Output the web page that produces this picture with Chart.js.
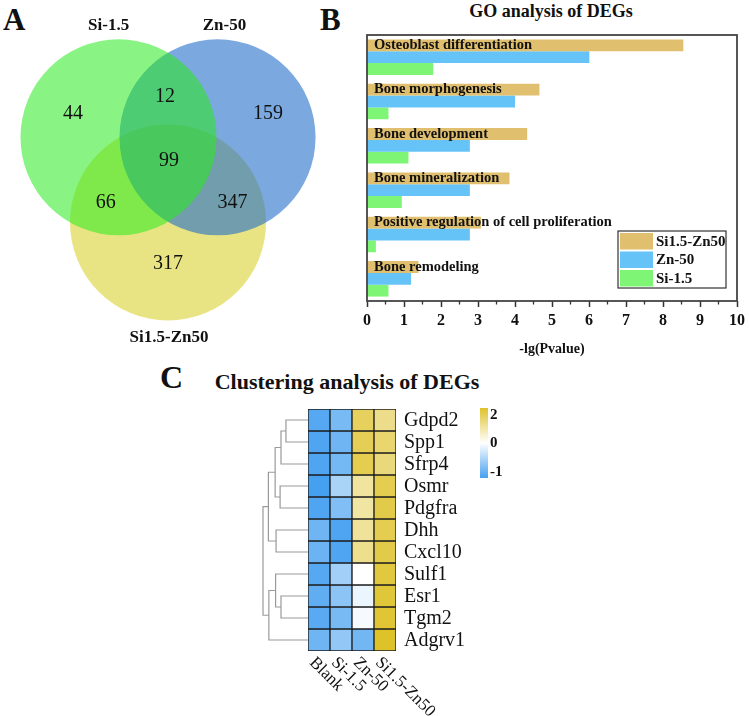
<!DOCTYPE html>
<html>
<head>
<meta charset="utf-8">
<script src="https://cdn.jsdelivr.net/npm/chart.js@4/dist/chart.umd.min.js"></script>
<style>
  body { margin: 0; background: #fff; }
  #page { position: relative; width: 749px; height: 716px; overflow: hidden; font-family: 'Liberation Serif', 'Times New Roman', serif; color: #111; }
  .box { position: absolute; }
  .txt { position: absolute; line-height: 1; font-weight: bold; white-space: nowrap; }
</style>
</head>
<body>
<div id="page">
  <div class="txt" style="left:3px; top:4px; font-size:31px;">A</div>
  <div class="txt" style="left:320px; top:4px; font-size:31px;">B</div>
  <div class="txt" style="left:160px; top:361px; font-size:32px;">C</div>
  <div class="txt" style="left:551px; top:2px; font-size:18px; transform:translateX(-50%);">GO analysis of DEGs</div>
  <div class="txt" style="left:347px; top:371px; font-size:22px; transform:translateX(-50%);">Clustering analysis of DEGs</div>

  <div class="box" style="left:0px; top:0px; width:340px; height:345px;"><canvas id="venn"></canvas></div>
  <div class="box" style="left:355px; top:22px; width:394px; height:340px;"><canvas id="go"></canvas></div>
  <div class="box" style="left:256px; top:409px; width:52px; height:242px;"><canvas id="dendro"></canvas></div>
  <div class="box" style="left:300px; top:400px; width:250px; height:316px;"><canvas id="heat"></canvas></div>
</div>
<script>
// ---- A: Venn ----
const vennSets = ['Si-1.5', 'Zn-50', 'Si1.5-Zn50'];
const vennCenterX = [-0.5, 0.5, 0];
const vennCenterY = [0.29, 0.29, -0.57];
const vennRadius = 0.99;
const vennColors = ['rgba(40,235,30,0.55)', 'rgba(35,110,200,0.6)', 'rgba(220,212,55,0.62)'];
const vennLabelX = [-0.60, 0.57, 0.01];
const vennLabelY = [1.42, 1.42, -1.73];
const vennCounts = [44, 12, 159, 99, 66, 347, 317];
const vennCountX = [-0.96, -0.03, 1.01, 0.01, -0.63, 0.65, 0];
const vennCountY = [0.525, 0.70, 0.525, 0.05, -0.37, -0.37, -0.99];

// ---- B: GO bars ----
const goTerms = ['Osteoblast differentiation', 'Bone morphogenesis', 'Bone development',
  'Bone mineralization', 'Positive regulation of cell proliferation', 'Bone remodeling'];
const goSeries = ['Si1.5-Zn50', 'Zn-50', 'Si-1.5'];
const siZnValues = [8.55, 4.66, 4.33, 3.85, 3.08, 1.39];
const znValues = [6.01, 4.00, 2.78, 2.78, 2.78, 1.19];
const siValues = [1.79, 0.58, 1.12, 0.94, 0.24, 0.58];
const goColors = ['#e0bf6f', '#66c3f8', '#7ef574'];
const xTicks = [0, 1, 2, 3, 4, 5, 6, 7, 8, 9, 10];

// ---- C: heatmap ----
const genes = ['Gdpd2', 'Spp1', 'Sfrp4', 'Osmr', 'Pdgfra', 'Dhh', 'Cxcl10', 'Sulf1', 'Esr1', 'Tgm2', 'Adgrv1'];
const samples = ['Blank', 'Si-1.5', 'Zn-50', 'Si1.5-Zn50'];
const heatValues = [
  [-0.92, -0.73, 1.50, 1.10],
  [-0.95, -0.78, 1.60, 1.35],
  [-0.95, -0.75, 1.65, 1.25],
  [-1.00, -0.46, 0.90, 1.65],
  [-0.95, -0.68, 0.85, 1.70],
  [-0.78, -0.95, 0.95, 1.65],
  [-0.80, -0.95, 1.05, 1.70],
  [-0.92, -0.51, 0.00, 1.80],
  [-0.86, -0.62, -0.11, 1.85],
  [-0.90, -0.73, -0.05, 1.90],
  [-0.78, -0.59, -0.76, 2.00]
];
const colorbarTicks = ['2', '0', '-1'];
// dendrogram merges: [childA, childB, height]; leaves are 0..10, new nodes 11..
const linkage = [
  [0, 1, 0.49], [11, 2, 0.60], [3, 4, 0.62], [12, 13, 0.73], [5, 6, 0.71],
  [14, 15, 0.88], [8, 9, 0.60], [7, 17, 0.72], [18, 10, 0.87], [16, 19, 1.0]
];

const serif = "'Liberation Serif', 'Times New Roman', serif";
Chart.defaults.font.family = serif;
Chart.defaults.color = '#111';
Chart.defaults.animation = false;

// ---------- Venn ----------
var vennLabels = {
  id: 'vennLabels',
  afterDatasetsDraw: function(chart) {
    var ctx = chart.ctx, sx = chart.scales.x, sy = chart.scales.y;
    ctx.save();
    ctx.fillStyle = '#111';
    ctx.textAlign = 'center';
    ctx.textBaseline = 'middle';
    ctx.font = '20px ' + serif;
    vennCounts.forEach(function(n, i) {
      ctx.fillText(String(n), sx.getPixelForValue(vennCountX[i]), sy.getPixelForValue(vennCountY[i]));
    });
    ctx.font = 'bold 17px ' + serif;
    vennSets.forEach(function(s, i) {
      ctx.fillText(s, sx.getPixelForValue(vennLabelX[i]), sy.getPixelForValue(vennLabelY[i]));
    });
    ctx.restore();
  }
};

new Chart(document.getElementById('venn'), {
  type: 'scatter',
  data: {
    datasets: vennSets.map(function(s, i) {
      return {
        label: s,
        data: [{ x: vennCenterX[i], y: vennCenterY[i] }],
        backgroundColor: vennColors[i],
        borderWidth: 0,
        pointRadius: function(c) {
          var sc = c.chart.scales.x;
          if (!sc) return 0;
          var r = Math.abs(sc.getPixelForValue(vennRadius) - sc.getPixelForValue(0));
          return isFinite(r) ? r : 0;
        },
        pointHoverRadius: 0
      };
    })
  },
  options: {
    responsive: true,
    maintainAspectRatio: false,
    events: [],
    layout: { padding: 0, autoPadding: false },
    plugins: { legend: { display: false }, tooltip: { enabled: false } },
    scales: {
      x: { type: 'linear', display: false, min: -1.697, max: 1.737 },
      y: { type: 'linear', display: false, min: -1.808, max: 1.677 }
    }
  },
  plugins: [vennLabels]
});

// ---------- GO bar chart ----------
var goDecor = {
  id: 'goDecor',
  afterDatasetsDraw: function(chart) {
    var ctx = chart.ctx, a = chart.chartArea, sx = chart.scales.x;
    ctx.save();
    // term names over the first bar of each group
    var meta = chart.getDatasetMeta(0);
    ctx.fillStyle = '#111';
    ctx.font = 'bold 14.5px ' + serif;
    ctx.textAlign = 'left';
    ctx.textBaseline = 'middle';
    goTerms.forEach(function(t, i) {
      ctx.fillText(t, a.left + 7, meta.data[i].y);
    });
    // frame
    ctx.strokeStyle = '#444';
    ctx.lineWidth = 1.8;
    ctx.strokeRect(a.left, a.top, a.right - a.left, a.bottom - a.top);
    // minor ticks
    ctx.lineWidth = 1.3;
    ctx.strokeStyle = '#333';
    for (var k = 0; k < xTicks.length - 1; k++) {
      var px = sx.getPixelForValue((xTicks[k] + xTicks[k + 1]) / 2);
      ctx.beginPath();
      ctx.moveTo(px, a.bottom);
      ctx.lineTo(px, a.bottom + 3.5);
      ctx.stroke();
    }
    // legend box (bottom right inside plot)
    var bw = 108, bh = 57;
    var bx = a.right - 11 - bw, by = a.bottom - 13 - bh;
    ctx.fillStyle = '#fff';
    ctx.fillRect(bx, by, bw, bh);
    ctx.strokeStyle = '#333';
    ctx.lineWidth = 1.2;
    ctx.strokeRect(bx, by, bw, bh);
    ctx.font = 'bold 15px ' + serif;
    goSeries.forEach(function(s, i) {
      var cy = by + 10 + i * 18.5;
      ctx.fillStyle = goColors[i];
      ctx.fillRect(bx + 2, cy - 8, 33, 16.5);
      ctx.fillStyle = '#111';
      ctx.fillText(s, bx + 38, cy + 1);
    });
    ctx.restore();
  }
};

new Chart(document.getElementById('go'), {
  type: 'bar',
  data: {
    labels: goTerms,
    datasets: [
      { label: goSeries[0], data: siZnValues, backgroundColor: goColors[0] },
      { label: goSeries[1], data: znValues, backgroundColor: goColors[1] },
      { label: goSeries[2], data: siValues, backgroundColor: goColors[2] }
    ]
  },
  options: {
    indexAxis: 'y',
    responsive: true,
    maintainAspectRatio: false,
    events: [],
    datasets: { bar: { barPercentage: 1, categoryPercentage: 0.8, borderWidth: 0 } },
    layout: { padding: { left: 12, right: 12, top: 13, bottom: 4 } },
    plugins: { legend: { display: false }, tooltip: { enabled: false } },
    scales: {
      x: {
        type: 'linear', min: 0, max: 10,
        afterBuildTicks: function(scale) { scale.ticks = xTicks.map(function(v) { return { value: v }; }); },
        ticks: { font: { size: 16, weight: 'bold' }, color: '#111', padding: 4 },
        grid: { drawOnChartArea: false, drawTicks: true, tickLength: 6, tickColor: '#333', tickWidth: 1.5 },
        border: { display: false },
        title: { display: true, text: '-lg(Pvalue)', font: { size: 14, weight: 'bold' }, color: '#111', padding: { top: 7, bottom: 0 } }
      },
      y: { type: 'category', display: false }
    }
  },
  plugins: [goDecor]
});

// ---------- Dendrogram ----------
var nodeY = genes.map(function(g, i) { return i; });
var nodeH = genes.map(function() { return 0; });
var dendroSets = linkage.map(function(m) {
  var a = m[0], b = m[1], h = m[2];
  var ya = nodeY[a], yb = nodeY[b];
  nodeY.push((ya + yb) / 2);
  nodeH.push(h);
  return {
    data: [{ x: nodeH[a], y: ya }, { x: h, y: ya }, { x: h, y: yb }, { x: nodeH[b], y: yb }],
    showLine: true,
    borderColor: '#9a9a9a',
    borderWidth: 1.2,
    pointRadius: 0,
    fill: false,
    clip: false
  };
});

new Chart(document.getElementById('dendro'), {
  type: 'scatter',
  data: { datasets: dendroSets },
  options: {
    responsive: true,
    maintainAspectRatio: false,
    events: [],
    layout: { padding: 0, autoPadding: false },
    plugins: { legend: { display: false }, tooltip: { enabled: false } },
    scales: {
      x: { type: 'linear', display: false, min: 0, max: 52 / 45, reverse: true },
      y: { type: 'linear', display: false, min: -0.5, max: genes.length - 0.5, reverse: true }
    }
  }
});

// ---------- Heatmap ----------
function heatColor(v) {
  var r, g, b, t;
  if (v >= 0) {
    t = Math.min(v / 2, 1);
    r = 255 + (222 - 255) * t; g = 255 + (194 - 255) * t; b = 255 + (42 - 255) * t;
  } else {
    t = Math.min(-v, 1);
    r = 255 + (70 - 255) * t; g = 255 + (160 - 255) * t; b = 255 + (240 - 255) * t;
  }
  return 'rgb(' + Math.round(r) + ',' + Math.round(g) + ',' + Math.round(b) + ')';
}

var heatDecor = {
  id: 'heatDecor',
  afterDatasetsDraw: function(chart) {
    var ctx = chart.ctx, a = chart.chartArea, sx = chart.scales.x;
    ctx.save();
    ctx.fillStyle = '#111';
    // gene names
    ctx.font = '20px ' + serif;
    ctx.textAlign = 'left';
    ctx.textBaseline = 'middle';
    genes.forEach(function(g, i) {
      var el = chart.getDatasetMeta(i).data[0];
      ctx.fillText(g, a.right + 8, (el.y + el.base) / 2 + 1);
    });
    // sample names, rotated
    ctx.font = '17px ' + serif;
    samples.forEach(function(s, i) {
      ctx.save();
      ctx.translate(sx.getPixelForValue(i) - 7, a.bottom + 9);
      ctx.rotate(Math.PI / 4);
      ctx.fillText(s, 0, 0);
      ctx.restore();
    });
    // colour bar
    var cx = a.right + 84, top = a.top - 1, h = 70;
    var grad = ctx.createLinearGradient(0, top, 0, top + h);
    grad.addColorStop(0, heatColor(2));
    grad.addColorStop(0.25, heatColor(1));
    grad.addColorStop(0.5, heatColor(0));
    grad.addColorStop(1, heatColor(-1));
    ctx.fillStyle = grad;
    ctx.fillRect(cx, top, 8, h);
    ctx.fillStyle = '#111';
    ctx.font = 'bold 15px ' + serif;
    var ty = [top + 7, top + 35, top + 64];
    colorbarTicks.forEach(function(t, i) { ctx.fillText(t, cx + 10, ty[i]); });
    ctx.restore();
  }
};

new Chart(document.getElementById('heat'), {
  type: 'bar',
  data: {
    labels: samples,
    datasets: genes.map(function(g, i) {
      return {
        label: g,
        data: samples.map(function() { return 1; }),
        backgroundColor: heatValues[i].map(heatColor),
        borderColor: '#1c1c1c',
        borderWidth: 1,
        borderSkipped: false
      };
    })
  },
  options: {
    responsive: true,
    maintainAspectRatio: false,
    events: [],
    datasets: { bar: { barPercentage: 1, categoryPercentage: 1 } },
    layout: { padding: { left: 8, top: 9, right: 154, bottom: 65 } },
    plugins: { legend: { display: false }, tooltip: { enabled: false } },
    scales: {
      x: { type: 'category', display: false, stacked: true },
      y: { type: 'linear', display: false, stacked: true, min: 0, max: genes.length, reverse: true }
    }
  },
  plugins: [heatDecor]
});
</script>
</body>
</html>
